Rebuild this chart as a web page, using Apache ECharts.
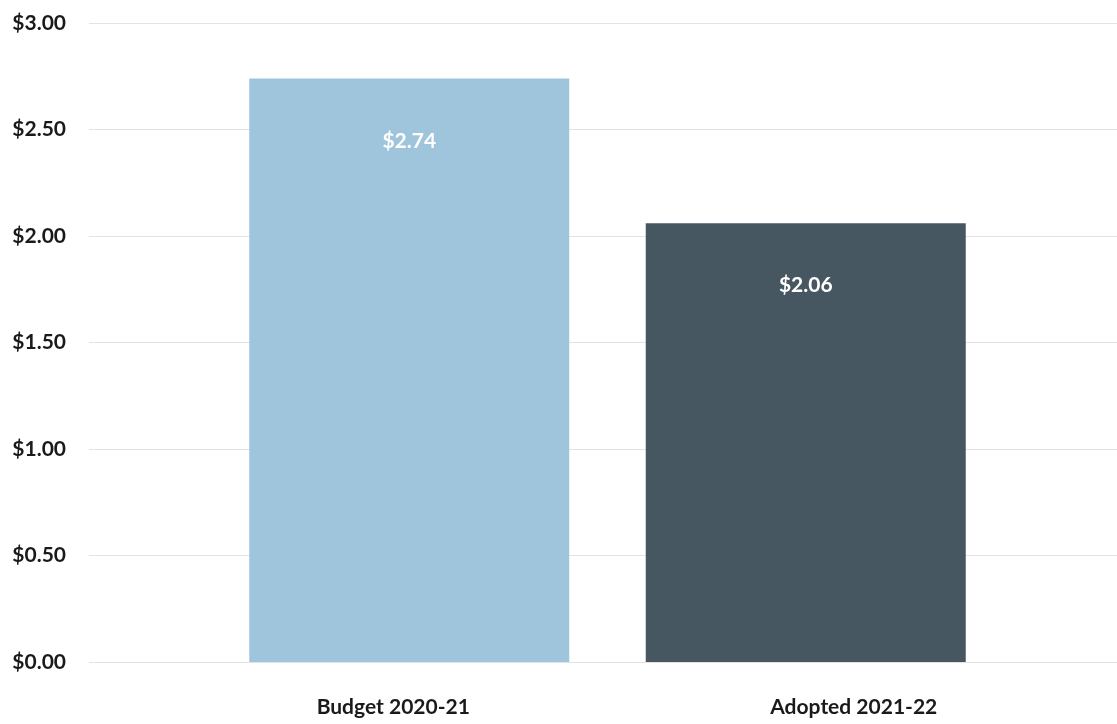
<!DOCTYPE html>
<html>
<head>
<meta charset="utf-8">
<script src="https://cdn.jsdelivr.net/npm/echarts@6/dist/echarts.min.js"></script>
<style>
  html, body { margin: 0; padding: 0; background: #ffffff; }
  #chart { width: 1117px; height: 724px; }
</style>
</head>
<body>
<div id="chart"></div>
<script>
// Fiscal-year categories and their amounts (dollars)
const categories = ['Budget 2020-21', 'Adopted 2021-22'];
const amounts = [2.74, 2.06];
const barColors = ['#9fc5dc', '#465761'];
const yMin = 0, yMax = 3, yStep = 0.5;

const font = 'Lato, Open Sans, sans-serif';
const chart = echarts.init(document.getElementById('chart'));

chart.setOption({
  backgroundColor: '#ffffff',
  animation: false,
  grid: [
    // full-width grid carrying the value labels and gridlines
    { left: 89, right: 0, top: 23, bottom: 62 },
    // narrower grid holding the bars
    { left: 211, right: 113, top: 23, bottom: 62 }
  ],
  xAxis: [
    { gridIndex: 0, type: 'category', data: [''], show: false },
    {
      gridIndex: 1, type: 'category', data: categories,
      axisLine: { show: false }, axisTick: { show: false },
      axisLabel: {
        margin: 35,
        formatter: (v, i) => (i === 0 ? '{a|' : '{b|') + v + '}',
        rich: {
          a: { fontFamily: font, fontWeight: 'bold', fontSize: 21, color: '#1a1a1a', padding: [0, 32, 0, 0] },
          b: { fontFamily: font, fontWeight: 'bold', fontSize: 21, color: '#1a1a1a', padding: [0, 0, 0, 96] }
        }
      }
    }
  ],
  yAxis: [
    {
      gridIndex: 0, type: 'value', min: yMin, max: yMax, interval: yStep,
      axisLine: { show: false }, axisTick: { show: false },
      splitLine: { lineStyle: { color: '#e3e3e3', width: 1 } },
      axisLabel: {
        margin: 23, fontFamily: font, fontWeight: 'bold', fontSize: 21, color: '#1a1a1a',
        formatter: v => '$' + v.toFixed(2)
      }
    },
    {
      gridIndex: 1, type: 'value', min: yMin, max: yMax, interval: yStep,
      show: false, splitLine: { show: false }
    }
  ],
  series: [{
    type: 'bar',
    xAxisIndex: 1, yAxisIndex: 1,
    barWidth: 320,
    data: amounts.map((v, i) => ({ value: v, itemStyle: { color: barColors[i] } })),
    label: {
      show: true, position: 'insideTop', distance: 52,
      fontFamily: font, fontWeight: 'bold', fontSize: 21, color: '#ffffff',
      formatter: p => '$' + p.value.toFixed(2)
    }
  }]
});
</script>
</body>
</html>
